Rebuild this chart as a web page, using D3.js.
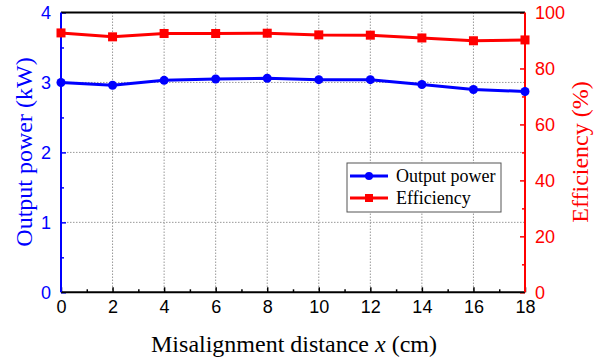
<!DOCTYPE html>
<html lang="en">
  <head>
    <meta charset="utf-8">
    <style>
      body { margin: 0; background: #fff; }
      .tick text { font-family: "Liberation Sans", Arial, sans-serif; font-size: 18px; }
    </style>
  </head>
  <body>
    <svg id="chart" width="601" height="360"></svg>

    <script src="https://cdn.jsdelivr.net/npm/d3@7"></script>
    <script>
      // data
      var distance = [0, 2, 4, 6, 8, 10, 12, 14, 16, 18];
      var outputPower = [3.00, 2.96, 3.03, 3.05, 3.06, 3.04, 3.04, 2.97, 2.90, 2.87];
      var efficiency = [92.7, 91.3, 92.5, 92.5, 92.6, 92.0, 91.9, 90.9, 89.9, 90.2];
      var powerTicks = [0, 1, 2, 3, 4];
      var effTicks = [0, 20, 40, 60, 80, 100];

      var pLeft = 61, pRight = 525, pTop = 12.5, pBottom = 292.3;
      var blue = "#0000ff", red = "#ff0000";
      var serif = "'Liberation Serif', 'Times New Roman', serif";

      var svg = d3.select("#chart");

      var x = d3.scaleLinear().domain([0, 18]).range([pLeft, pRight]);
      var yP = d3.scaleLinear().domain([0, 4]).range([pBottom, pTop]);
      var yE = d3.scaleLinear().domain([0, 100]).range([pBottom, pTop]);

      /* grid */
      var grid = svg.append("g")
        .attr("stroke", "#999")
        .attr("stroke-width", 1)
        .attr("stroke-dasharray", "1.5,1.5");
      grid.selectAll("line.v")
        .data(distance.slice(1, -1))
        .enter().append("line")
        .attr("x1", function(d) { return x(d); })
        .attr("x2", function(d) { return x(d); })
        .attr("y1", pTop).attr("y2", pBottom);
      grid.selectAll("line.h")
        .data([1, 2, 3])
        .enter().append("line")
        .attr("y1", function(d) { return yP(d); })
        .attr("y2", function(d) { return yP(d); })
        .attr("x1", pLeft).attr("x2", pRight);

      /* axes */
      function styleAxis(g, color) {
        g.select(".domain").remove();
        g.selectAll("line").attr("stroke", color).attr("stroke-width", 1.5);
        g.selectAll("text").attr("fill", color);
      }

      svg.append("g")
        .attr("transform", "translate(0," + pBottom + ")")
        .call(d3.axisBottom(x).tickValues(distance).tickSize(-5).tickPadding(8).tickFormat(d3.format("d")))
        .call(styleAxis, "#000");
      svg.append("g")
        .attr("transform", "translate(0," + pBottom + ")")
        .call(d3.axisBottom(x).tickValues(d3.range(1, 18, 2)).tickSize(-3).tickFormat(""))
        .call(styleAxis, "#000");

      svg.append("g")
        .attr("transform", "translate(" + pLeft + ",0)")
        .call(d3.axisLeft(yP).tickValues(powerTicks).tickSize(-5).tickPadding(10).tickFormat(d3.format("d")))
        .call(styleAxis, blue);
      svg.append("g")
        .attr("transform", "translate(" + pLeft + ",0)")
        .call(d3.axisLeft(yP).tickValues([0.5, 1.5, 2.5, 3.5]).tickSize(-3).tickFormat(""))
        .call(styleAxis, blue);

      svg.append("g")
        .attr("transform", "translate(" + pRight + ",0)")
        .call(d3.axisRight(yE).tickValues(effTicks).tickSize(-5).tickPadding(10).tickFormat(d3.format("d")))
        .call(styleAxis, red);
      svg.append("g")
        .attr("transform", "translate(" + pRight + ",0)")
        .call(d3.axisRight(yE).tickValues([10, 30, 50, 70, 90]).tickSize(-3).tickFormat(""))
        .call(styleAxis, red);

      // frame
      svg.append("line").attr("x1", pLeft).attr("x2", pRight).attr("y1", pTop).attr("y2", pTop)
        .attr("stroke", "#000").attr("stroke-width", 2);
      svg.append("line").attr("x1", pLeft).attr("x2", pRight).attr("y1", pBottom).attr("y2", pBottom)
        .attr("stroke", "#000").attr("stroke-width", 2);
      svg.append("line").attr("x1", pLeft).attr("x2", pLeft).attr("y1", pTop).attr("y2", pBottom)
        .attr("stroke", blue).attr("stroke-width", 2);
      svg.append("line").attr("x1", pRight).attr("x2", pRight).attr("y1", pTop).attr("y2", pBottom)
        .attr("stroke", red).attr("stroke-width", 2);

      /* series */
      var powerLine = d3.line()
        .x(function(d, i) { return x(distance[i]); })
        .y(function(d) { return yP(d); });
      var effLine = d3.line()
        .x(function(d, i) { return x(distance[i]); })
        .y(function(d) { return yE(d); });

      svg.append("path").datum(efficiency)
        .attr("d", effLine).attr("fill", "none").attr("stroke", red).attr("stroke-width", 3);
      svg.selectAll("rect.eff")
        .data(efficiency)
        .enter().append("rect")
        .attr("class", "eff")
        .attr("x", function(d, i) { return x(distance[i]) - 4.5; })
        .attr("y", function(d) { return yE(d) - 4.5; })
        .attr("width", 9).attr("height", 9)
        .attr("fill", red);

      svg.append("path").datum(outputPower)
        .attr("d", powerLine).attr("fill", "none").attr("stroke", blue).attr("stroke-width", 3);
      svg.selectAll("circle.pow")
        .data(outputPower)
        .enter().append("circle")
        .attr("class", "pow")
        .attr("cx", function(d, i) { return x(distance[i]); })
        .attr("cy", function(d) { return yP(d); })
        .attr("r", 4.5)
        .attr("fill", blue);

      /* titles */
      var xt = svg.append("text")
        .attr("x", 294).attr("y", 352)
        .attr("text-anchor", "middle")
        .attr("font-family", serif).attr("font-size", 24);
      xt.append("tspan").text("Misalignment distance ");
      xt.append("tspan").attr("font-style", "italic").text("x");
      xt.append("tspan").text(" (cm)");

      svg.append("text")
        .attr("transform", "translate(32,152) rotate(-90)")
        .attr("text-anchor", "middle")
        .attr("font-family", serif).attr("font-size", 24)
        .attr("fill", blue)
        .text("Output power (kW)");
      svg.append("text")
        .attr("transform", "translate(588,152) rotate(-90)")
        .attr("text-anchor", "middle")
        .attr("font-family", serif).attr("font-size", 24)
        .attr("fill", red)
        .text("Efficiency (%)");

      /* legend */
      var legend = svg.append("g")
        .attr("font-family", serif).attr("font-size", 18);
      legend.append("rect")
        .attr("x", 347).attr("y", 163).attr("width", 154).attr("height", 49)
        .attr("fill", "#fff").attr("stroke", "#555").attr("stroke-width", 1);
      var items = [
        { name: "Output power", color: blue, shape: "circle" },
        { name: "Efficiency", color: red, shape: "square" }
      ];
      items.forEach(function(it, i) {
        var cy = 176 + i * 22;
        legend.append("line").attr("x1", 350).attr("x2", 388).attr("y1", cy).attr("y2", cy)
          .attr("stroke", it.color).attr("stroke-width", 3);
        if (it.shape === "circle") {
          legend.append("circle").attr("cx", 369).attr("cy", cy).attr("r", 4).attr("fill", it.color);
        } else {
          legend.append("rect").attr("x", 365).attr("y", cy - 4).attr("width", 8).attr("height", 8).attr("fill", it.color);
        }
        legend.append("text").attr("x", 396).attr("y", cy + 6).text(it.name);
      });
    </script>
  </body>
</html>
